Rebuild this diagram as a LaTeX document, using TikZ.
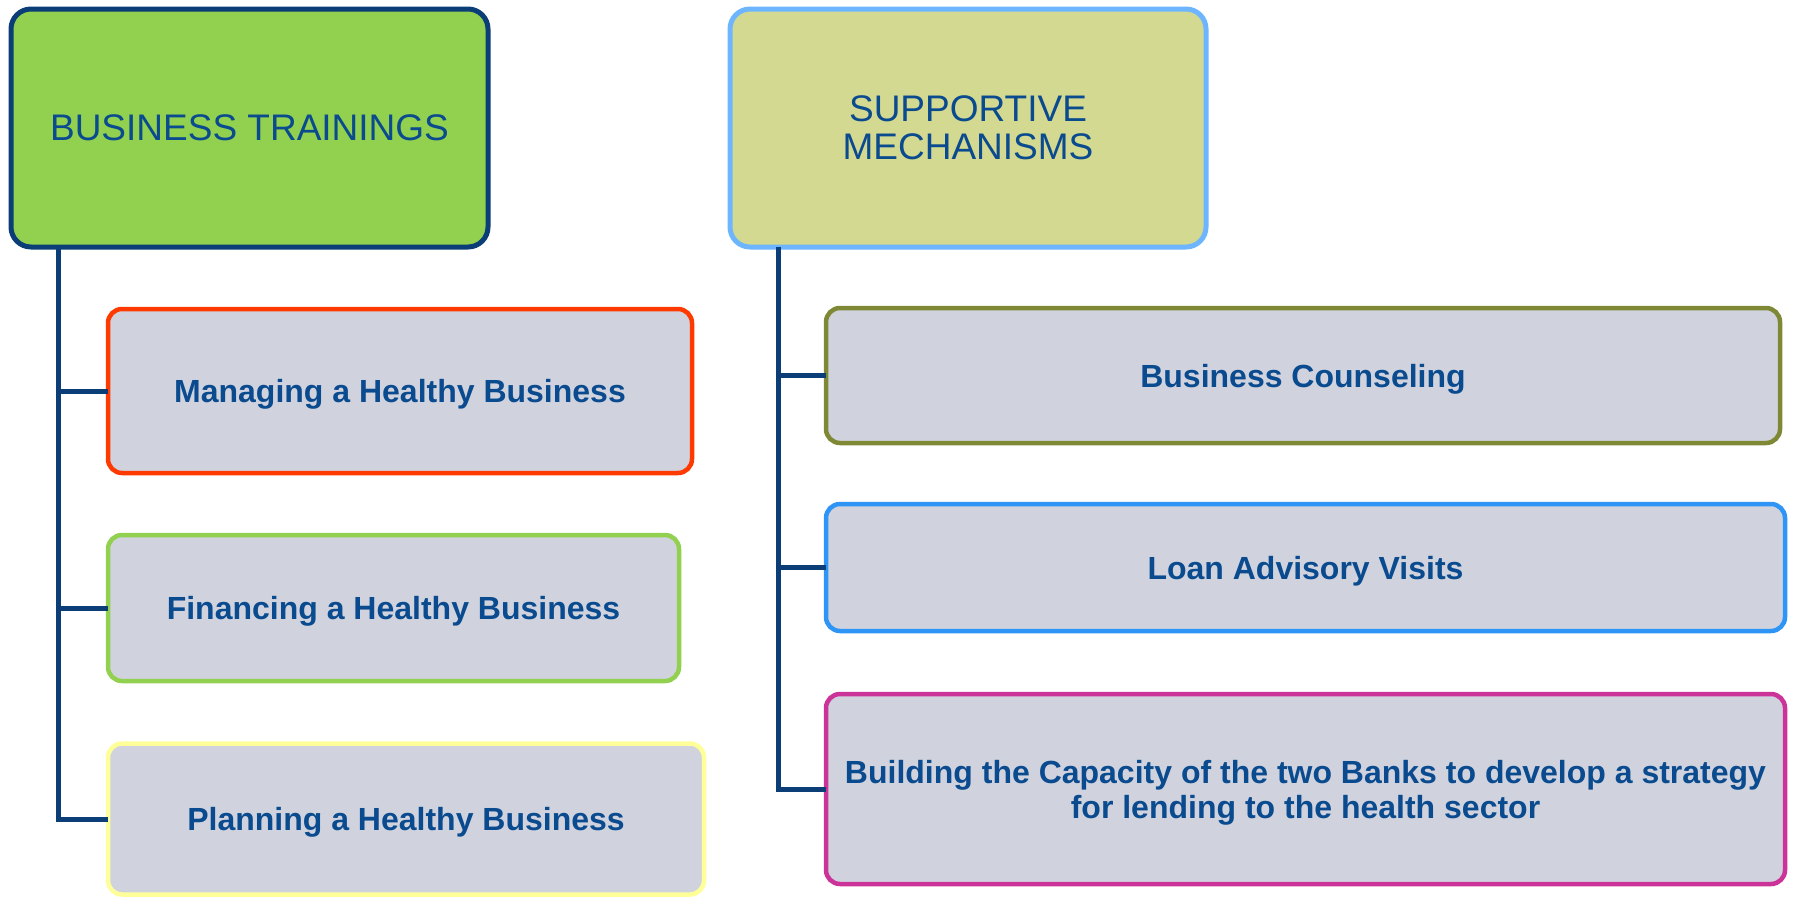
\documentclass[tikz,border=0pt]{standalone}
\usepackage{fontspec}
\setmainfont{Liberation Sans}
\definecolor{txtblue}{HTML}{0A4A8E}
\definecolor{navy}{HTML}{0B3D77}
\definecolor{hdrgreen}{HTML}{92D050}
\definecolor{hdrkhaki}{HTML}{D4D991}
\definecolor{lightblue}{HTML}{6DB6FF}
\definecolor{childfill}{HTML}{D0D3DE}
\definecolor{cRed}{HTML}{FF3A00}
\definecolor{cGreen}{HTML}{92D050}
\definecolor{cYellow}{HTML}{FFFF99}
\definecolor{cOlive}{HTML}{7F8935}
\definecolor{cBlue}{HTML}{2E95F6}
\definecolor{cMagenta}{HTML}{CC3399}
\begin{document}
\begin{tikzpicture}[x=1pt,y=-1pt,
  hdr/.style={draw, line width=5pt, rounded corners=20pt, inner sep=0pt, outer sep=0pt,
    text=txtblue, font=\fontsize{37}{38}\selectfont, align=center},
  child/.style={draw, line width=4.5pt, rounded corners=14pt, fill=childfill, inner sep=0pt, outer sep=0pt,
    text=txtblue, font=\bfseries\fontsize{32}{35}\selectfont, align=center, text depth=0pt},
  conn/.style={draw=navy, line width=5pt}
]
\useasboundingbox (0,0) rectangle (1795,897);
% header boxes
\node[hdr, fill=hdrgreen, draw=navy, minimum width=477pt, minimum height=238pt] (bt) at (249.5,128) {BUSINESS TRAININGS};
\node[hdr, fill=hdrkhaki, draw=lightblue, minimum width=476pt, minimum height=238pt] (sm) at (968,128) {SUPPORTIVE\\MECHANISMS};
% left children
\node[child, draw=cRed, minimum width=584pt, minimum height=164pt] (m1) at (400,391) {Managing a Healthy Business};
\node[child, draw=cGreen, minimum width=571pt, minimum height=146pt] (m2) at (393.5,608) {Financing a Healthy Business};
\node[child, draw=cYellow, minimum width=596pt, minimum height=151pt] (m3) at (406,819) {Planning a Healthy Business};
% right children
\node[child, draw=cOlive, minimum width=954pt, minimum height=135pt] (s1) at (1303,375.5) {Business Counseling};
\node[child, draw=cBlue, minimum width=959pt, minimum height=127pt] (s2) at (1305.5,567.5) {Loan Advisory Visits};
\node[child, draw=cMagenta, minimum width=959pt, minimum height=190pt] (s3) at (1305.5,789) {Building the Capacity of the two Banks to develop a strategy\\for lending to the health sector};
% connector coordinates
\coordinate (lt) at (58,247);
\coordinate (rt) at (778,247);
% left connectors
\draw[conn] (lt) |- (m3.west);
\draw[conn] (lt |- m1.west) -- (m1.west);
\draw[conn] (lt |- m2.west) -- (m2.west);
% right connectors
\draw[conn] (rt) |- (s3.west);
\draw[conn] (rt |- s1.west) -- (s1.west);
\draw[conn] (rt |- s2.west) -- (s2.west);
\end{tikzpicture}
\end{document}
